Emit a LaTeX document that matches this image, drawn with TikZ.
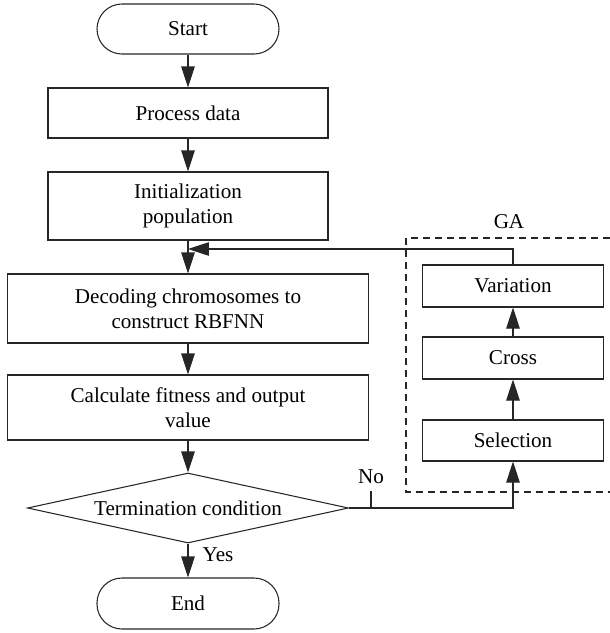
\documentclass[tikz,border=0pt]{standalone}
\usepackage{fontspec}
\setmainfont{Liberation Serif}
\usetikzlibrary{positioning,arrows.meta,shapes.geometric}

\begin{document}
\begin{tikzpicture}[
  box/.style={draw=black!85, line width=0.6pt, align=center,
              font=\fontsize{12}{14}\selectfont, inner sep=2pt},
  term/.style={box, rounded corners=0.5cm, minimum width=3.64cm},
  cond/.style={box, diamond, aspect=4.6, inner sep=0pt},
  arr/.style={-{Triangle[length=0.42cm, width=0.27cm]}, line width=0.6pt, black!85},
  lin/.style={line width=0.6pt, black!85},
  lbl/.style={font=\fontsize{12}{14}\selectfont, inner sep=1pt}
]
\useasboundingbox (0,0) rectangle (12.2,-12.66);
% main column
\node[term, minimum height=1.0cm] (start) at (3.76,-0.58) {Start};
\node[box, minimum width=5.6cm, minimum height=1.0cm] (proc) at (3.76,-2.26) {Process data};
\node[box, minimum width=5.6cm, minimum height=1.36cm] (init) at (3.76,-4.12)
  {Initialization\\population};
\node[box, minimum width=7.22cm, minimum height=1.38cm] (decode) at (3.76,-6.17)
  {Decoding chromosomes to\\construct RBFNN};
\node[box, minimum width=7.22cm, minimum height=1.3cm] (calc) at (3.76,-8.15)
  {Calculate fitness and output\\value};
\node[cond, minimum width=6.42cm, minimum height=1.4cm] (term) at (3.76,-10.16)
  {Termination condition};
\node[term, minimum height=1.02cm] (end) at (3.76,-12.07) {End};
% GA part
\node[box, minimum width=3.62cm, minimum height=0.84cm] (var) at (10.26,-5.72) {Variation};
\node[box, minimum width=3.62cm, minimum height=0.84cm] (cross) at (10.26,-7.16) {Cross};
\node[box, minimum width=3.62cm, minimum height=0.82cm] (sel) at (10.26,-8.81) {Selection};
\draw[lin, dash pattern=on 0.14cm off 0.1cm]
  (12.2,-4.76) -- (8.12,-4.76) -- (8.12,-9.84) -- (12.2,-9.84);
\node[lbl] (ga) at (10.18,-4.44) {GA};
\coordinate (back) at (3.76,-4.98);
\coordinate (tick) at (7.42,-10.16);
\node[lbl] (no) at (7.42,-9.54) {No};
\node[lbl] (yes) at (4.36,-11.1) {Yes};
% connectors
\draw[arr] (start) -- (proc);
\draw[arr] (proc) -- (init);
\draw[arr] (init) -- (decode);
\draw[arr] (decode) -- (calc);
\draw[arr] (calc) -- (term);
\draw[arr] (term) -- (end);
\draw[arr] (term.east) -| (sel.south);
\draw[arr] (sel) -- (cross);
\draw[arr] (cross) -- (var);
\draw[arr] (var.north) |- (back);
\draw[lin] (tick) -- ++(0,0.34);
\end{tikzpicture}
\end{document}
